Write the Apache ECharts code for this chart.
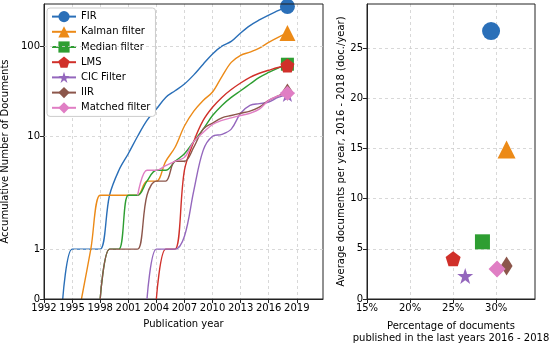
<!DOCTYPE html>
<html><head><meta charset="utf-8">
<script src="https://cdn.jsdelivr.net/npm/echarts@6/dist/echarts.min.js"></script>
<style>html,body{margin:0;padding:0;background:#fff}#c{width:550px;height:343px}</style>
</head><body><div id="c"></div>
<script>
// ---------- data ----------
const years = [1992,1993,1994,1995,1996,1997,1998,1999,2000,2001,2002,2003,2004,2005,2006,2007,2008,2009,2010,2011,2012,2013,2014,2015,2016,2017,2018];
const names = ['FIR','Kalman filter','Median filter','LMS','CIC Filter','IIR','Matched filter'];
const firDocs     = [null,null,0,1,1,1,1,3,5,7,10,15,20,27,32,38,48,63,82,100,113,140,169,195,221,247,276];
const kalmanDocs  = [null,null,null,null,0,1,3,3,3,3,3,4,4,6,8,13,19,25,31,46,66,79,86,95,110,125,140];
const medianDocs  = [null,null,null,null,null,null,0,1,1,3,3,4,5,5,6,7,9,12,17,22,27,32,38,45,51,57,63];
const lmsDocs     = [null,null,null,null,null,null,null,null,null,null,null,null,0,1,1,5,9,15,21,27,33,39,45,50,54,58,61];
const cicDocs     = [null,null,null,null,null,null,null,null,null,null,null,0,1,1,1,1.3,3.3,7.5,10,10.5,12,18,22,23,24,27,29];
const iirDocs     = [null,null,null,null,null,null,0,1,1,1,1,3,4,4,6,6,8,12,14,16,17,18,19,21,25,28,31];
const matchedDocs = [null,null,null,null,null,null,null,null,null,null,3,5,5,5.5,6,6.5,9,11,13.5,15,16,17,18,20,25,28,30];
const leftYTicks = [0,1,10,100];
// scatter (right panel)
const pctRecent = [29.4,31.2,28.4,25.0,26.4,31.2,30.1];   // % of documents in 2016-2018
const avgRecent = [26.7,14.9,5.7,4.0,2.3,3.3,3.0];        // docs / year 2016-2018

// ---------- style ----------
const colors = ['#2a6fb8','#ec8a17','#2e9e32','#d0302a','#9467bd','#8c564b','#e07ec4'];
const symbols = [
  'circle','triangle','rect',
  'path://M0,-1 L0.951,-0.309 L0.588,0.809 L-0.588,0.809 L-0.951,-0.309 Z',
  'path://M0,-1 L0.2245,-0.309 L0.951,-0.309 L0.363,0.118 L0.588,0.809 L0,0.382 L-0.588,0.809 L-0.363,0.118 L-0.951,-0.309 L-0.2245,-0.309 Z',
  'path://M0,-1 L0.6,0 L0,1 L-0.6,0 Z',
  'path://M0,-1 L1,0 L0,1 L-1,0 Z'
];
const symSizes = [15,16,13,14,15,[11,17],15];
const scSizes = [18,18,15,15,16,[12,19],17];
const FONT = 'DejaVu Sans';

// custom axis transform
function T(v){
  if (v <= 1) return 50*v;
  if (v <= 10) return 50 + 113*Math.log10(v);
  return 163 + 90.3*Math.log10(v/10);
}
const tickLabelMap = {};
leftYTicks.forEach(t => { tickLabelMap[T(t).toFixed(3)] = String(t); });

const allDocs = [firDocs,kalmanDocs,medianDocs,lmsDocs,cicDocs,iirDocs,matchedDocs];
const lastIdx = years.length - 1;
const gridLine = {show:true, showMaxLine:false, showMinLine:false, lineStyle:{color:'#cfcfcf', type:[3,3], width:0.8}};
const axLine = {show:true, lineStyle:{color:'#222', width:1}};
const axTick = {show:true, length:4, lineStyle:{color:'#222'}};
const lab = {fontFamily:FONT, fontSize:10, color:'#000'};

const series = [];
allDocs.forEach((arr, i) => {
  series.push({
    type:'line', name:names[i], xAxisIndex:0, yAxisIndex:0,
    data: years.map((y, k) => [y, arr[k] == null ? null : T(arr[k])]),
    smooth:0.35, connectNulls:false,
    symbol:symbols[i], showAllSymbol:true,
    symbolSize:(v, p) => p.dataIndex === lastIdx ? symSizes[i] : 0,
    lineStyle:{width:1.4, color:colors[i]},
    itemStyle:{color:colors[i]},
    z: 2 + i,
    markLine: i === 0 ? {
      silent:true, symbol:'none', label:{show:false},
      lineStyle:{color:'#cfcfcf', type:[3,3], width:0.8},
      data: leftYTicks.slice(1).map(t => ({yAxis:T(t)}))
    } : undefined
  });
});
names.forEach((n, i) => {
  series.push({
    type:'scatter', name:n, xAxisIndex:1, yAxisIndex:1,
    data:[[pctRecent[i], avgRecent[i]]],
    symbol:symbols[i], symbolSize:scSizes[i],
    itemStyle:{color:colors[i], opacity:1},
    z: 10 + i
  });
});

const option = {
  animation:false,
  textStyle:{fontFamily:FONT},
  grid:[
    {left:44, right:227, top:4, bottom:44, show:true, borderColor:'#222', borderWidth:1, z:5, outerBoundsMode:'none', containLabel:false},
    {left:367, right:15, top:4, bottom:44, show:true, borderColor:'#222', borderWidth:1, z:5, outerBoundsMode:'none', containLabel:false}
  ],
  legend:{
    data:names, orient:'vertical', left:47, top:8,
    itemWidth:24, itemHeight:14, itemGap:4, itemTextGap:6,
    padding:[3,5,3,4],
    backgroundColor:'#fff', borderColor:'#cccccc', borderWidth:1, borderRadius:3,
    textStyle:{fontFamily:FONT, fontSize:10, color:'#000'}
  },
  xAxis:[
    {type:'value', gridIndex:0, min:1992, max:2021.8, interval:3,
     name:'Publication year', nameLocation:'middle', nameGap:20,
     nameTextStyle:{fontFamily:FONT, fontSize:10, color:'#000'},
     axisLine:axLine, axisTick:axTick,
     axisLabel:Object.assign({margin:4, showMaxLabel:false,
       formatter:v => ((v-1992)%3===0 ? String(v) : '')}, lab),
     splitLine:gridLine},
    {type:'value', gridIndex:1, min:15, max:34.5, interval:5,
     name:'Percentage of documents\npublished in the last years 2016 - 2018',
     nameLocation:'middle', nameGap:21,
     nameTextStyle:{fontFamily:FONT, fontSize:10, color:'#000', lineHeight:12},
     axisLine:axLine, axisTick:axTick,
     axisLabel:Object.assign({margin:4, showMaxLabel:false, formatter:'{value}%'}, lab),
     splitLine:gridLine}
  ],
  yAxis:[
    {type:'value', gridIndex:0, min:0, max:295.5,
     name:'Accumulative Number of Documents', nameLocation:'middle', nameGap:25,
     nameTextStyle:{fontFamily:FONT, fontSize:10, color:'#000'},
     axisLine:axLine,
     axisTick:Object.assign({customValues:leftYTicks.map(T)}, axTick),
     axisLabel:Object.assign({margin:4, customValues:leftYTicks.map(T),
       formatter:v => tickLabelMap[Number(v).toFixed(3)] ?? ''}, lab),
     splitLine:{show:false}},
    {type:'value', gridIndex:1, min:0, max:29.4, interval:5,
     name:'Average documents per year, 2016 - 2018 (doc./year)', nameLocation:'middle', nameGap:21,
     nameTextStyle:{fontFamily:FONT, fontSize:10, color:'#000'},
     axisLine:axLine, axisTick:axTick,
     axisLabel:Object.assign({margin:4, showMaxLabel:false}, lab),
     splitLine:gridLine}
  ],
  series:series
};
const chart = echarts.init(document.getElementById('c'), null, {renderer:'canvas'});
chart.setOption(option);
</script></body></html>
